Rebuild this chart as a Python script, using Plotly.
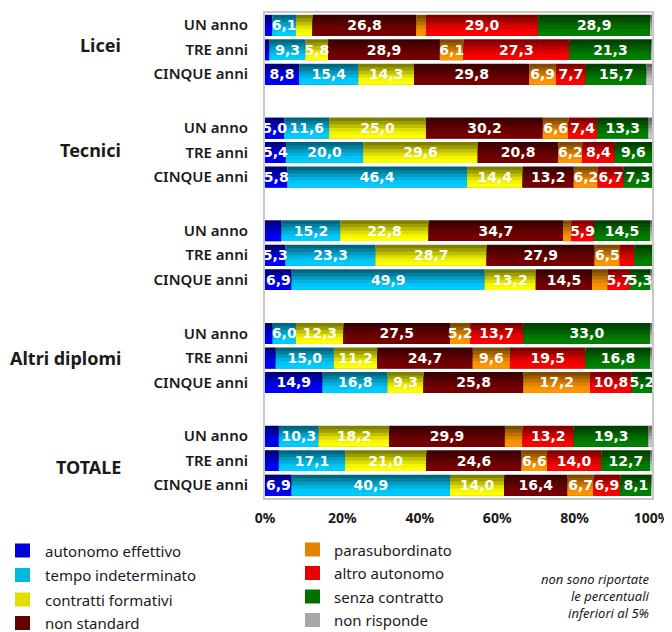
import numpy as np
import plotly.graph_objects as go

# ---------------- data ----------------
groups = ["Licei", "Tecnici", "", "Altri diplomi", "TOTALE"]
durations = ["UN anno", "TRE anni", "CINQUE anni"]
x_tick_vals = [0, 20, 40, 60, 80, 100]
x_tick_text = ["0%", "20%", "40%", "60%", "80%", "100%"]

series_names = ["autonomo effettivo", "tempo indeterminato", "contratti formativi", "non standard",
                "parasubordinato", "altro autonomo", "senza contratto", "non risponde"]

autonomo_effettivo = [1.9, 1.2, 8.8, 5.0, 5.4, 5.8, 4.3, 5.3, 6.9, 2.0, 2.8, 14.9, 3.6, 3.6, 6.9]
tempo_indeterminato = [6.1, 9.3, 15.4, 11.6, 20.0, 46.4, 15.2, 23.3, 49.9, 6.0, 15.0, 16.8, 10.3, 17.1, 40.9]
contratti_formativi = [4.3, 5.8, 14.3, 25.0, 29.6, 14.4, 22.8, 28.7, 13.2, 12.3, 11.2, 9.3, 18.2, 21.0, 14.0]
non_standard = [26.8, 28.9, 29.8, 30.2, 20.8, 13.2, 34.7, 27.9, 14.5, 27.5, 24.7, 25.8, 29.9, 24.6, 16.4]
parasubordinato = [2.5, 6.1, 6.9, 6.6, 6.2, 6.2, 2.1, 6.5, 4.1, 5.2, 9.6, 17.2, 4.6, 6.6, 6.7]
altro_autonomo = [29.0, 27.3, 7.7, 7.4, 8.4, 6.7, 5.9, 3.7, 5.7, 13.7, 19.5, 10.8, 13.2, 14.0, 6.9]
senza_contratto = [28.9, 21.3, 15.7, 13.3, 9.6, 7.3, 14.5, 4.7, 5.3, 33.0, 16.8, 5.2, 19.3, 12.7, 8.1]
non_risponde = [0.5, 0.1, 1.4, 0.9, 0.0, 0.0, 0.3, 0.0, 0.4, 0.3, 0.4, 0.0, 0.9, 0.4, 0.1]

series_values = [autonomo_effettivo, tempo_indeterminato, contratti_formativi, non_standard,
                 parasubordinato, altro_autonomo, senza_contratto, non_risponde]

note_text = "non sono riportate<br>le percentuali<br>inferiori al 5%"

# ---------------- styles ----------------
base_rgb = [(0, 0, 250), (0, 204, 255), (255, 255, 0), (118, 0, 0),
            (255, 150, 0), (255, 0, 0), (0, 128, 0), (200, 200, 200)]
legend_colors = ["#0000DC", "#00B8E0", "#E0E000", "#640000", "#E08400", "#E80000", "#007000", "#A8A8A8"]
shade = [0.5, 0.62, 0.75, 0.87, 0.96, 1.0]  # top -> bottom gradient


def rgb(c, f):
    return "rgb({},{},{})".format(*[int(round(v * f)) for v in c])


# page has an 8px body margin; work in page pixels and convert
OFF = 8
W, H = 672 - OFF, 632 - OFF
PL, PR, PT, PB = 265, 652, 13, 498          # plot area in page pixels
L, R, T, B = PL - OFF, W - (PR - OFF), PT - OFF, H - (PB - OFF)
GROUP_STEP = 4.2
BAR_W = 0.85
pos = [g * GROUP_STEP + r for g in range(len(groups)) for r in range(len(durations))]
row_labels = [d for g in groups for d in durations]


def px_x(px):
    return (px - PL) / (PR - PL)


def px_y(py):
    return (PB - py) / (PB - PT)


fig = go.Figure()
cum = np.zeros(len(pos))
bases = []
for vals in series_values:
    bases.append(cum.copy())
    cum = cum + np.array(vals)

# gradient bars (stacked layers, each reaching the bottom edge)
n = len(shade)
for name, vals, base, col in zip(series_names, series_values, bases, base_rgb):
    for k, f in enumerate(shade):
        top = -BAR_W / 2 + k * BAR_W / n
        fig.add_trace(go.Bar(
            y=pos, x=vals, base=base, orientation="h", name=name,
            width=BAR_W / 2 - top, offset=top,
            marker=dict(color=rgb(col, f), line=dict(width=0)),
            showlegend=False, hoverinfo="skip",
        ))

# value labels (transparent bars on top)
for name, vals, base in zip(series_names, series_values, bases):
    txt = [f"{v:.1f}".replace(".", ",") if v >= 5 else "" for v in vals]
    fig.add_trace(go.Bar(
        y=pos, x=vals, base=base, orientation="h", name=name, width=BAR_W,
        marker=dict(color="rgba(0,0,0,0)", line=dict(width=0)),
        text=txt, textposition="inside", insidetextanchor="middle", textangle=0,
        textfont=dict(family="DejaVu Sans", size=14, color="white", weight="bold"),
        showlegend=False, hoverinfo="x+name",
    ))

fig.update_layout(
    width=W, height=H, barmode="overlay",
    margin=dict(l=L, r=R, t=T, b=B, autoexpand=False),
    paper_bgcolor="white", plot_bgcolor="white",
    uniformtext=dict(minsize=14, mode="show"),
    font=dict(family="Noto Sans", color="#1a1a1a"),
    xaxis=dict(range=[0, 100], tickvals=x_tick_vals, ticktext=x_tick_text, showgrid=False, zeroline=False,
               showline=True, mirror=True, linecolor="#c8c8c8", linewidth=2,
               ticks="outside", ticklen=6, tickcolor="rgba(0,0,0,0)",
               tickfont=dict(family="Noto Sans", size=14, weight="bold", color="#1a1a1a")),
    yaxis=dict(range=[pos[-1] + 0.53, -0.5], tickvals=pos, ticktext=row_labels, showgrid=False,
               zeroline=False, showline=True, mirror=True, linecolor="#c8c8c8", linewidth=2,
               ticks="outside", ticklen=12, tickcolor="rgba(0,0,0,0)",
               tickfont=dict(family="Noto Sans", size=15, weight=600, color="#1a1a1a")),
)

# group labels
group_offsets = [0.8, 0.9, 1.0, 1.0, 1.25]
for g, (gname, off) in enumerate(zip(groups, group_offsets)):
    if gname:
        fig.add_annotation(x=px_x(123), xref="paper", y=g * GROUP_STEP + off, yref="y",
                           text=f"<b>{gname}</b>", showarrow=False, xanchor="right", yanchor="middle",
                           font=dict(family="Noto Sans", size=18, color="#1a1a1a"))

# custom legend (two columns)
leg_sq_x = [15, 305]
leg_txt_x = [43, 332]
leg_y = [[550.5, 575, 599.5, 623], [549.5, 573, 596.5, 620]]
for i, (name, col) in enumerate(zip(series_names, legend_colors)):
    c, r = divmod(i, 4)
    x0 = leg_sq_x[c]
    yc = leg_y[c][r]
    fig.add_shape(type="rect", xref="paper", yref="paper",
                  x0=px_x(x0), x1=px_x(x0 + 15), y0=px_y(yc + 7), y1=px_y(yc - 7),
                  fillcolor=col, line=dict(width=0))
    fig.add_annotation(x=px_x(leg_txt_x[c]), y=px_y(yc), xref="paper", yref="paper", text=name,
                       showarrow=False, xanchor="left", yanchor="middle",
                       font=dict(family="Noto Sans", size=15, color="#1a1a1a"))

fig.add_annotation(x=px_x(652), y=px_y(595.5), xref="paper", yref="paper", text=f"<i>{note_text}</i>",
                   showarrow=False, xanchor="right", yanchor="middle", align="right",
                   font=dict(family="Noto Sans", size=13, color="#1a1a1a"))

fig.write_html("out.html")
